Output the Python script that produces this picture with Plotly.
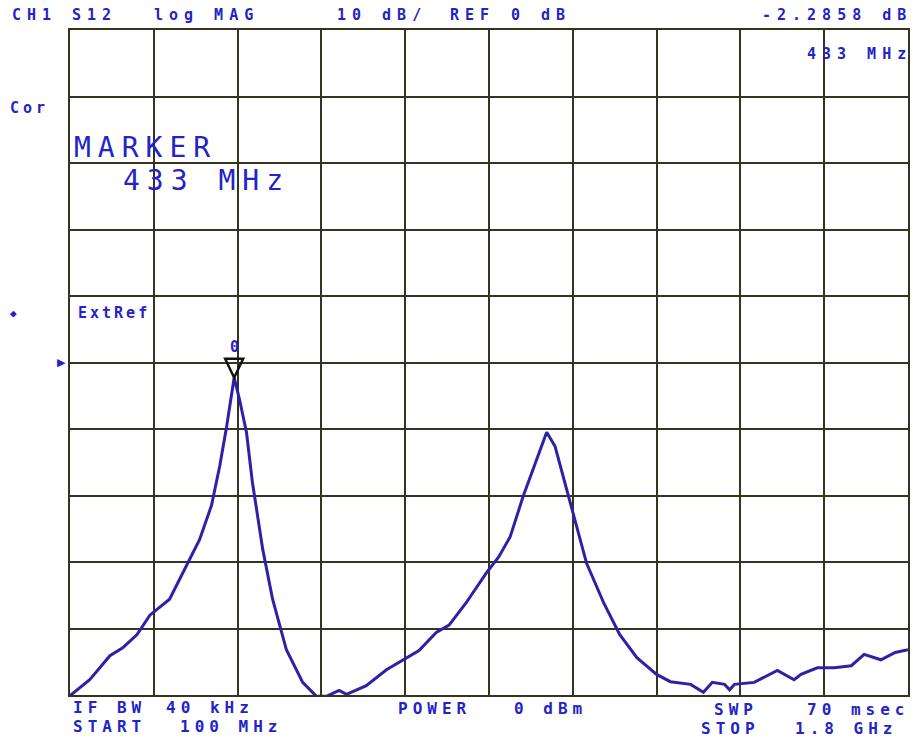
import plotly.graph_objects as go

freq_mhz = [100, 140, 181, 207, 236, 262, 302, 337, 363, 387, 404, 418, 428,
            433, 444, 458, 470, 491, 511, 539, 572, 600, 620, 646, 661, 701,
            742, 768, 808, 843, 869, 903, 944, 970, 993, 1019, 1047, 1067,
            1084, 1100, 1120, 1148, 1183, 1215, 1250, 1290, 1318, 1359, 1385,
            1403, 1428, 1438, 1448, 1488, 1535, 1569, 1583, 1616, 1650, 1685,
            1711, 1745, 1774, 1800]
s12_db = [-50.1, -47.7, -44.1, -42.9, -40.9, -38.0, -35.6, -30.5, -26.6, -21.5,
          -15.5, -9.5, -4.5, -2.29, -5.6, -10.5, -18.0, -28.1, -35.6, -43.2,
          -48.1, -50.2, -50.2, -49.3, -49.9, -48.6, -46.2, -45.1, -43.3, -40.6,
          -39.5, -36.2, -31.7, -29.2, -26.2, -20.2, -14.6, -10.5, -12.6, -17.1,
          -22.7, -30.2, -36.2, -40.9, -44.4, -46.9, -48.0, -48.4, -49.6, -48.1,
          -48.4, -49.2, -48.4, -48.1, -46.3, -47.7, -46.9, -45.9, -45.9, -45.6,
          -43.9, -44.7, -43.6, -43.2]
marker_freq = 433
marker_db = -2.2858
start_mhz, stop_mhz = 100, 1800
ref_db = 0
scale_db = 10
n_div = 10

TXT = "#2323c8"
TRACE = "#2b22a6"
GRID = "#35351f"

W, H = 913, 740
L, R, T, B = 70, 3, 30, 45   # plot area edges in window pixels
PW, PH = W - L - R, H - T - B


def px(x):
    return (x - L) / PW


def py(y):
    return (H - B - y) / PH


fig = go.Figure()
fig.add_trace(go.Scatter(x=freq_mhz, y=s12_db, mode="lines",
                         line=dict(color=TRACE, width=3), hoverinfo="skip",
                         showlegend=False))

span = stop_mhz - start_mhz
fig.update_xaxes(range=[start_mhz, stop_mhz], tick0=start_mhz, dtick=span / n_div,
                 showgrid=True, gridcolor=GRID, gridwidth=2, zeroline=False,
                 showticklabels=False, ticks="", showline=True, mirror=True,
                 linecolor=GRID, linewidth=2)
fig.update_yaxes(range=[ref_db - 5 * scale_db, ref_db + 5 * scale_db], tick0=ref_db,
                 dtick=scale_db, showgrid=True, gridcolor=GRID, gridwidth=2,
                 zeroline=False, showticklabels=False, ticks="", showline=True,
                 mirror=True, linecolor=GRID, linewidth=2)


def label(x, y, text, size=15, anchor="left", bold=True, spacing=6,
          color=TXT, family="DejaVu Sans Mono"):
    t = f'<span style="letter-spacing:{spacing}px">{text}</span>'
    if bold:
        t = f"<b>{t}</b>"
    xs = spacing if anchor == "right" else 0
    fig.add_annotation(xref="paper", yref="paper", x=px(x + xs), y=py(y), text=t,
                       showarrow=False, xanchor=anchor, yanchor="middle",
                       font=dict(family=family, size=size, color=color))


# top status line
label(10, 15, "CH1")
label(70, 15, "S12")
label(152, 15, "log MAG")
label(336, 15, "10 dB/")
label(449, 15, "REF")
label(510, 15, "0 dB")
label(910, 15, "-2.2858 dB", anchor="right")
label(910, 54, "433 MHz", anchor="right")
label(8, 108, "Cor", spacing=4)

# marker readout
label(72, 147, "MARKER", size=28, bold=False, spacing=7)
label(121, 181, "433 MHz", size=28, bold=False, spacing=7)

label(8, 313, "◆", size=11, spacing=0)
label(76, 313, "ExtRef", spacing=3)

# bottom status lines
label(71, 707, "IF BW", size=16, spacing=5)
label(164, 707, "40 kHz", size=16, spacing=5)
label(71, 726, "START", size=16, spacing=5)
label(178, 726, "100 MHz", size=16, spacing=5)
label(397, 708, "POWER", size=16, spacing=5)
label(513, 708, "0 dBm", size=16, spacing=5)
label(714, 709, "SWP", size=16, spacing=5)
label(908, 709, "70 msec", size=16, spacing=5, anchor="right")
label(700, 728, "STOP", size=16, spacing=5)
label(896, 728, "1.8 GHz", size=16, spacing=5, anchor="right")

# reference position indicator
fig.add_annotation(xref="paper", yref="y", x=px(61), y=ref_db, text="▶",
                   showarrow=False, xanchor="center", yanchor="middle",
                   font=dict(family="DejaVu Sans", size=11, color=TXT))

# marker symbol
fig.add_shape(type="path", xref="x", yref="y", xsizemode="pixel", ysizemode="pixel",
              xanchor=marker_freq, yanchor=marker_db,
              path="M -9,19 L 9,19 L 0,0 Z", line=dict(color="#111111", width=2.5))
fig.add_annotation(xref="x", yref="y", x=marker_freq, y=marker_db, text="<b>0</b>",
                   showarrow=False, xanchor="center", yanchor="middle", yshift=31,
                   font=dict(family="DejaVu Sans Mono", size=15, color=TXT))

fig.update_layout(width=W, height=H, autosize=False,
                  margin=dict(l=L, r=R, t=T, b=B, pad=0),
                  paper_bgcolor="white", plot_bgcolor="white",
                  showlegend=False)

fig.write_html("out.html",
               config={"displayModeBar": False},
               post_script="document.body.style.margin='0px';"
                           "document.body.style.overflow='hidden';")
